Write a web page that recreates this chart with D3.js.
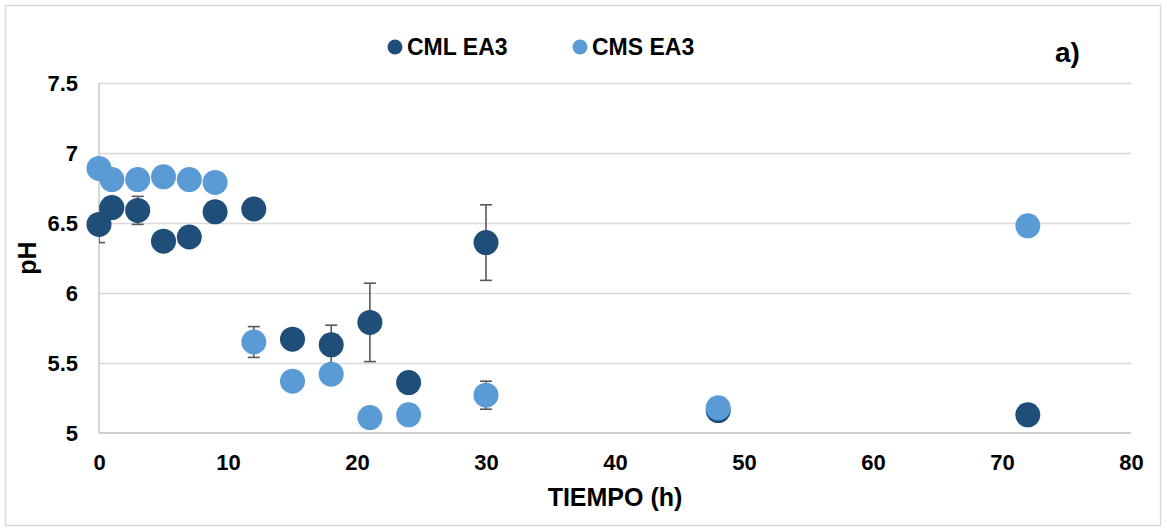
<!DOCTYPE html>
<html>
<head>
<meta charset="utf-8">
<script src="https://cdn.jsdelivr.net/npm/d3@7"></script>
<style>
  body { margin: 0; background: #fff; }
  text { font-family: "Liberation Sans", Arial, sans-serif; font-weight: bold; fill: #000; }
</style>
</head>
<body>
<div id="chart"></div>
<script>
// time points (h)
const tiempo = [0, 1, 3, 5, 7, 9, 12, 15, 18, 21, 24, 30, 48, 72];
// pH values
const cmlEA3 = [6.49, 6.61, 6.59, 6.37, 6.40, 6.58, 6.60, 5.67, 5.63, 5.79, 5.36, 6.36, 5.16, 5.13];
const cmsEA3 = [6.89, 6.81, 6.81, 6.83, 6.81, 6.79, 5.65, 5.37, 5.42, 5.11, 5.13, 5.27, 5.18, 6.48];
// error bar half-widths (0 = hidden behind the marker)
const cmlErr = [0.13, 0, 0.10, 0, 0, 0, 0, 0, 0.14, 0.28, 0, 0.27, 0, 0];
const cmsErr = [0, 0, 0, 0, 0, 0, 0.11, 0, 0, 0, 0, 0.10, 0, 0];
const xTicks = [0, 10, 20, 30, 40, 50, 60, 70, 80];
const yTicks = [5, 5.5, 6, 6.5, 7, 7.5];

const series = [
  { name: 'CML EA3', values: cmlEA3, err: cmlErr, color: '#1f4e79' },
  { name: 'CMS EA3', values: cmsEA3, err: cmsErr, color: '#5b9bd5' }
];

const width = 1167, height = 531;
const plotL = 99, plotR = 1131, plotT = 83, plotB = 433;

const svg = d3.select('#chart').append('svg')
  .attr('width', width)
  .attr('height', height);

svg.append('rect')
  .attr('x', 5.5).attr('y', 5.5)
  .attr('width', 1155).attr('height', 520)
  .attr('fill', '#fff')
  .attr('stroke', '#d9d9d9')
  .attr('stroke-width', 1.5);

const x = d3.scaleLinear().domain([0, 80]).range([plotL, plotR]);
const y = d3.scaleLinear().domain([5, 7.5]).range([plotB, plotT]);

// gridlines
svg.append('g')
  .attr('transform', `translate(${plotL},0)`)
  .call(d3.axisLeft(y).tickValues(yTicks.slice(1)).tickSize(-(plotR - plotL)).tickFormat(''))
  .call(g => g.select('.domain').remove())
  .call(g => g.selectAll('line').attr('stroke', '#d9d9d9').attr('stroke-width', 1.5));

// axis lines
svg.append('line')
  .attr('x1', plotL).attr('x2', plotL).attr('y1', plotT).attr('y2', plotB)
  .attr('stroke', '#c8c8c8').attr('stroke-width', 1.5);
svg.append('line')
  .attr('x1', plotL).attr('x2', plotR).attr('y1', plotB).attr('y2', plotB)
  .attr('stroke', '#bfbfbf').attr('stroke-width', 1.5);

// tick labels
const xAxis = svg.append('g')
  .attr('transform', `translate(0,${plotB})`)
  .call(d3.axisBottom(x).tickValues(xTicks).tickSize(0).tickPadding(0).tickFormat(d3.format('d')));
xAxis.select('.domain').remove();
xAxis.selectAll('text')
  .attr('y', 37).attr('dy', null)
  .style('font-size', '22px')
  .style('font-family', '"Liberation Sans", Arial, sans-serif')
  .style('font-weight', 'bold').attr('fill', '#000');

const yAxis = svg.append('g')
  .attr('transform', `translate(${plotL},0)`)
  .call(d3.axisLeft(y).tickValues(yTicks).tickSize(0).tickPadding(0).tickFormat(d => String(d)));
yAxis.select('.domain').remove();
yAxis.selectAll('text')
  .attr('x', -21).attr('dy', '0.36em')
  .style('font-size', '22px')
  .style('font-family', '"Liberation Sans", Arial, sans-serif')
  .style('font-weight', 'bold').attr('fill', '#000');

// axis titles
svg.append('text')
  .attr('x', 615).attr('y', 506)
  .attr('text-anchor', 'middle')
  .style('font-size', '25px')
  .text('TIEMPO (h)');

svg.append('text')
  .attr('transform', 'translate(36,258) rotate(-90)')
  .attr('text-anchor', 'middle')
  .style('font-size', '25px')
  .text('pH');

svg.append('text')
  .attr('x', 1055).attr('y', 62)
  .style('font-size', '28px')
  .text('a)');

// clip for error bars
svg.append('clipPath').attr('id', 'plotclip')
  .append('rect').attr('x', plotL).attr('y', 0).attr('width', plotR - plotL).attr('height', height);

// series
series.forEach(s => {
  const pts = tiempo.map((t, i) => ({ t, v: s.values[i], e: s.err[i] }));
  const eb = svg.append('g').attr('clip-path', 'url(#plotclip)')
    .attr('stroke', '#595959').attr('stroke-width', 1.6);
  const withErr = pts.filter(d => d.e > 0);
  eb.selectAll('line.v').data(withErr).enter().append('line')
    .attr('x1', d => x(d.t)).attr('x2', d => x(d.t))
    .attr('y1', d => y(d.v - d.e)).attr('y2', d => y(d.v + d.e));
  [-1, 1].forEach(sign => {
    eb.selectAll('line.c' + sign).data(withErr).enter().append('line')
      .attr('x1', d => x(d.t) - 6).attr('x2', d => x(d.t) + 6)
      .attr('y1', d => y(d.v + sign * d.e)).attr('y2', d => y(d.v + sign * d.e));
  });

  svg.append('g').selectAll('circle').data(pts).enter().append('circle')
    .attr('cx', d => x(d.t))
    .attr('cy', d => y(d.v))
    .attr('r', 12.5)
    .attr('fill', s.color);
});

// legend
const legend = svg.append('g');
const legendX = [395, 580];
series.forEach((s, i) => {
  legend.append('circle')
    .attr('cx', legendX[i]).attr('cy', 47).attr('r', 7.5)
    .attr('fill', s.color);
  legend.append('text')
    .attr('x', legendX[i] + 12).attr('y', 55)
    .style('font-size', '23px')
    .text(s.name);
});
</script>
</body>
</html>
